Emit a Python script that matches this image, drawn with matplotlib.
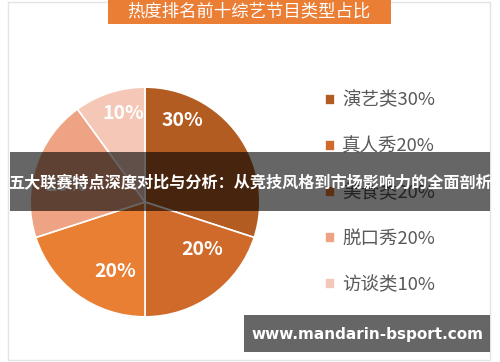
import numpy as np
import matplotlib.pyplot as plt
from matplotlib.patches import Rectangle

plt.rcParams['font.family'] = ['Noto Sans CJK SC', 'DejaVu Sans']

categories = ['演艺类', '真人秀', '美食类', '脱口秀', '访谈类']
shares = [30, 20, 20, 20, 10]
colors = ['#B35C22', '#D06A2B', '#E97F33', '#EEA384', '#F4C7B7']
title = '热度排名前十综艺节目类型占比'
banner = '五大联赛特点深度对比与分析：从竞技风格到市场影响力的全面剖析'
site = 'www.mandarin-bsport.com'

W, H = 500, 362
fig = plt.figure(figsize=(W / 100, H / 100), dpi=100)

# card border
fig.patches.append(Rectangle((8 / W, 2 / H), 482 / W, 358 / H, transform=fig.transFigure,
                             facecolor='none', edgecolor='#E4E4E4', lw=1, zorder=-1))

# pie
ax = fig.add_axes([29 / W, 44 / H, 232 / W, 232 / H])
wedges, texts, autotexts = ax.pie(
    shares, colors=colors, startangle=90, counterclock=False,
    autopct='%d%%', pctdistance=0.72,
    wedgeprops=dict(edgecolor='white', linewidth=1.2),
    textprops=dict(color='white', fontsize=14, fontweight='bold'))
# label placement like the original (radius, angle in degrees)
label_r = [0.78, 0.65, 0.66, 0.70, 0.79]
label_ang = [65, -40, -113, 168, 104]
for t, r, a in zip(autotexts, label_r, label_ang):
    t.set_position((r * np.cos(np.radians(a)), r * np.sin(np.radians(a))))
ax.set_xlim(-1.01, 1.01)
ax.set_ylim(-1.01, 1.01)
ax.set_aspect('equal')

# legend
labels = [f'{c}{s}%' for c, s in zip(categories, shares)]
fig.legend(wedges, labels, loc='upper left', bbox_to_anchor=(308 / W, 1 - 75 / H),
           frameon=False, fontsize=13.3, labelcolor='#595959',
           handlelength=0.55, handleheight=0.55, handletextpad=0.4, labelspacing=1.52)

# title box
fig.patches.append(Rectangle((108 / W, 1 - 24 / H), 283 / W, 24 / H, transform=fig.transFigure,
                             facecolor='#EA7E35', edgecolor='none', zorder=5))
fig.text(249 / W, 1 - 12 / H, title, color='white', fontsize=12.5,
         ha='center', va='center', zorder=6)

# overlay banner
fig.patches.append(Rectangle((10 / W, 1 - 211 / H), 480 / W, 59 / H, transform=fig.transFigure,
                             facecolor='black', alpha=0.6, edgecolor='none', zorder=7))
fig.text(250 / W, 1 - 183 / H, banner, color='white', fontsize=11.6, fontweight='bold',
         ha='center', va='center', zorder=8)

# site banner
fig.patches.append(Rectangle((244 / W, 1 - 352 / H), 246 / W, 37 / H, transform=fig.transFigure,
                             facecolor='black', alpha=0.6, edgecolor='none', zorder=7))
fig.text(367 / W, 1 - 334 / H, site, color='white', fontsize=11, fontweight='bold',
         family='DejaVu Sans', ha='center', va='center', zorder=8)

fig.savefig('out.png', dpi=100)
